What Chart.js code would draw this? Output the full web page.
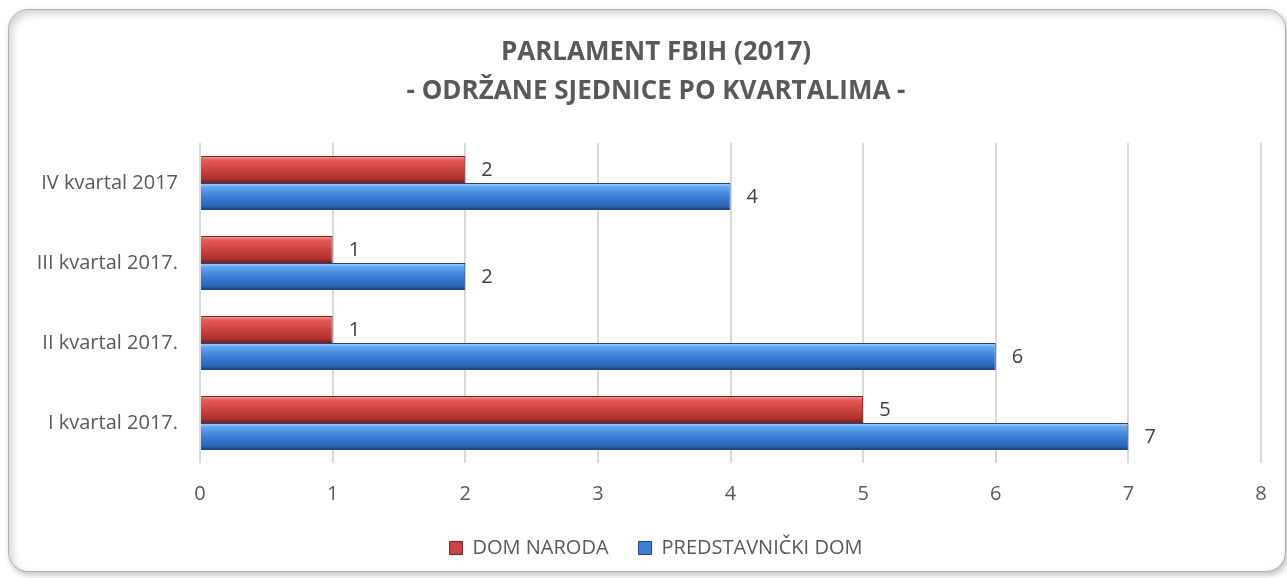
<!DOCTYPE html>
<html>
<head>
<meta charset="utf-8">
<script src="https://cdn.jsdelivr.net/npm/chart.js@4"></script>
<style>
    html, body { margin: 0; padding: 0; background: #fff; }
    #wrap { position: relative; width: 1287px; height: 578px; overflow: hidden; }
    #frame {
        position: absolute; left: 8px; top: 9px; width: 1278px; height: 563px;
        border: 1px solid #b0b0b0; border-radius: 20px; box-sizing: border-box;
        box-shadow: inset 3px 4px 8px rgba(0,0,0,0.18), 2px 3px 6px rgba(0,0,0,0.25);
        background: #fff;
    }
    #chart { position: absolute; left: 0; top: 0; }
</style>
</head>
<body>
<div id="wrap">
    <div id="frame"></div>
    <canvas id="chart" width="1287" height="578"></canvas>
</div>
<script>
// categories, top to bottom
const quarters = ['IV kvartal 2017', 'III kvartal 2017.', 'II kvartal 2017.', 'I kvartal 2017.'];
const domNaroda = [2, 1, 1, 5];
const predstavnickiDom = [4, 2, 6, 7];
const titleLines = ['PARLAMENT FBIH (2017)', '- ODRŽANE SJEDNICE PO KVARTALIMA -'];

const fontFamily = "'Open Sans', 'Liberation Sans', sans-serif";
const textGrey = '#595959';

// colour stops for the "cylinder" look, top -> bottom
const redStops = ['#f4a3a1', '#e55b58', '#cc4442', '#aa302e', '#6e1b1a'];
const blueStops = ['#acd5fb', '#62a6ef', '#3c7fd8', '#2d66b6', '#1c3f75'];

function barGradient(ctx, top, bottom, stops) {
    const g = ctx.createLinearGradient(0, top, 0, bottom);
    g.addColorStop(0, stops[0]);
    g.addColorStop(0.15, stops[1]);
    g.addColorStop(0.5, stops[2]);
    g.addColorStop(0.85, stops[3]);
    g.addColorStop(1, stops[4]);
    return g;
}

// give every bar its own vertical gradient before it is drawn
// (backgroundColor is scriptable below, so each bar owns its options object)
const shadePlugin = {
    id: 'shade',
    beforeDatasetsDraw(chart) {
        const ctx = chart.ctx;
        chart.data.datasets.forEach((ds, i) => {
            const meta = chart.getDatasetMeta(i);
            meta.data.forEach(bar => {
                const top = bar.y - bar.height / 2;
                const bottom = bar.y + bar.height / 2;
                bar.options.backgroundColor = barGradient(ctx, top, bottom, ds.stops);
            });
        });
    }
};

// the left padding keeps title + legend centred on the frame;
// widen the y scale box afterwards so its labels are not clipped
const widenYPlugin = {
    id: 'widenY',
    afterLayout(chart) {
        const y = chart.scales.y;
        y.left = 0;
        y.width = y.right;
    }
};

// value labels to the right of each bar
const valuePlugin = {
    id: 'values',
    afterDatasetsDraw(chart) {
        const ctx = chart.ctx;
        ctx.save();
        ctx.font = '20px ' + fontFamily;
        ctx.fillStyle = '#404040';
        ctx.textAlign = 'left';
        ctx.textBaseline = 'middle';
        chart.data.datasets.forEach((ds, i) => {
            const meta = chart.getDatasetMeta(i);
            meta.data.forEach((bar, j) => {
                ctx.fillText(String(ds.data[j]), bar.x + 16, bar.y + 1);
            });
        });
        ctx.restore();
    }
};

new Chart(document.getElementById('chart'), {
    type: 'bar',
    data: {
        labels: quarters,
        datasets: [
            {
                label: 'DOM NARODA',
                data: domNaroda,
                stops: redStops,
                backgroundColor: (c) => c.dataset.stops[2],
                borderColor: '#7a2221',
                borderWidth: 1,
            },
            {
                label: 'PREDSTAVNIČKI DOM',
                data: predstavnickiDom,
                stops: blueStops,
                backgroundColor: (c) => c.dataset.stops[2],
                borderColor: '#1f4680',
                borderWidth: 1,
            }
        ]
    },
    options: {
        indexAxis: 'y',
        responsive: false,
        animation: false,
        categoryPercentage: 0.675,
        barPercentage: 1,
        layout: { padding: { left: 51, right: 26, top: 33, bottom: 10 } },
        scales: {
            x: {
                min: 0,
                max: 8,
                ticks: { stepSize: 1, color: textGrey, font: { family: fontFamily, size: 20 }, padding: 19 },
                grid: { color: '#d9d9d9', lineWidth: 2, drawTicks: false },
                border: { display: false },
                afterFit(scale) { scale.height = 45; },
            },
            y: {
                ticks: { color: textGrey, font: { family: fontFamily, size: 20 }, padding: 22 },
                grid: { display: false, drawTicks: false },
                border: { display: false },
                afterFit(scale) { scale.width = 149; },
            }
        },
        plugins: {
            title: {
                display: true,
                text: titleLines,
                color: textGrey,
                font: { family: fontFamily, size: 26, weight: 'bold', lineHeight: 1.5 },
                padding: { top: 0, bottom: 32 },
            },
            legend: {
                position: 'bottom',
                labels: {
                    color: textGrey,
                    font: { family: fontFamily, size: 20 },
                    boxWidth: 13,
                    boxHeight: 13,
                    padding: 30,
                    generateLabels(chart) {
                        return chart.data.datasets.map((ds, i) => ({
                            text: ds.label,
                            fillStyle: ds.stops[2],
                            strokeStyle: ds.borderColor,
                            lineWidth: 1,
                            fontColor: textGrey,
                            datasetIndex: i,
                        }));
                    }
                }
            },
            tooltip: { enabled: false },
        }
    },
    plugins: [shadePlugin, widenYPlugin, valuePlugin]
});
</script>
</body>
</html>
